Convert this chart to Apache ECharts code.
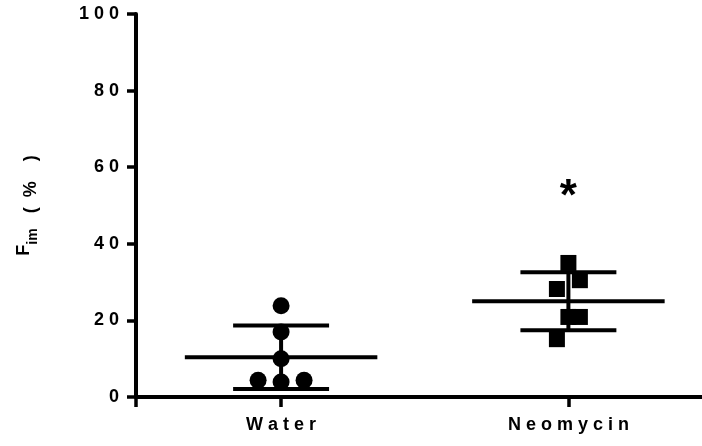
<!DOCTYPE html>
<html>
<head>
<meta charset="utf-8">
<script src="https://cdn.jsdelivr.net/npm/echarts@6/dist/echarts.min.js"></script>
<style>
  html, body { margin: 0; padding: 0; background: #fff; }
  #chart { width: 702px; height: 446px; }
</style>
</head>
<body>
<div id="chart"></div>
<script>
// groups sit at x = 1 and x = 2 on a value axis so the points can be jittered
const groups = ['Water', 'Neomycin'];
const groupX = [1, 2];

// individual animals
const waterX = [1, 1, 1, 0.92, 1, 1.08];
const waterY = [23.8, 17.0, 10.0, 4.4, 3.9, 4.4];
const neoX = [2, 2.04, 1.96, 2, 2.04, 1.96];
const neoY = [35.0, 30.5, 28.2, 20.9, 20.9, 15.1];

// mean +/- SD
const means = [10.4, 25.0];
const sds = [8.3, 7.6];

// significance mark
const sigText = ['', '*'];
const sigY = [null, 52];

const yTicks = [0, 20, 40, 60, 80, 100];

const FONT = "'Liberation Sans', Arial, sans-serif";
const spaced = s => String(s).split('').join(' ');

const MEAN_HALF = 0.335;   // half width of the mean line (x units)
const CAP_HALF = 0.167;    // half width of the SD caps

function renderErrorBar(params, api) {
  const x = api.value(0);
  const m = api.value(1);
  const sd = api.value(2);
  const c = api.coord([x, m]);
  const hi = api.coord([x, m + sd]);
  const lo = api.coord([x, m - sd]);
  const mh = api.size([MEAN_HALF, 0])[0];
  const ch = api.size([CAP_HALF, 0])[0];
  const st = { stroke: '#000', lineWidth: 4, lineCap: 'butt' };
  return {
    type: 'group',
    children: [
      { type: 'line', shape: { x1: c[0] - mh, y1: c[1], x2: c[0] + mh, y2: c[1] }, style: st },
      { type: 'line', shape: { x1: c[0], y1: hi[1], x2: c[0], y2: lo[1] }, style: st },
      { type: 'line', shape: { x1: c[0] - ch, y1: hi[1], x2: c[0] + ch, y2: hi[1] }, style: st },
      { type: 'line', shape: { x1: c[0] - ch, y1: lo[1], x2: c[0] + ch, y2: lo[1] }, style: st }
    ]
  };
}

const chart = echarts.init(document.getElementById('chart'));
const option = {
  animation: false,
  backgroundColor: '#fff',
  grid: { left: 136, right: 0, top: 14, bottom: 49, containLabel: false },
  xAxis: {
    type: 'value',
    min: 0.495,
    max: 2.465,
    splitLine: { show: false },
    axisLine: { show: true, lineStyle: { color: '#000', width: 4 } },
    axisTick: { show: true, length: 10, lineStyle: { color: '#000', width: 3.5 }, customValues: [0.495].concat(groupX) },
    axisLabel: {
      customValues: groupX,
      margin: 19,
      color: '#000',
      fontFamily: FONT,
      fontWeight: 'bold',
      fontSize: 18,
      formatter: v => spaced(groups[Math.round(v) - 1])
    }
  },
  yAxis: {
    type: 'value',
    min: yTicks[0],
    max: yTicks[yTicks.length - 1],
    interval: 20,
    splitLine: { show: false },
    axisLine: { show: true, lineStyle: { color: '#000', width: 4 } },
    axisTick: { show: true, length: 9, lineStyle: { color: '#000', width: 3.5 } },
    axisLabel: {
      margin: 17,
      color: '#000',
      fontFamily: FONT,
      fontWeight: 'bold',
      fontSize: 18,
      formatter: v => spaced(v)
    },
    name: '{f|F}{s|im}{g|   }{p|(  %    )}',
    nameLocation: 'middle',
    nameGap: 96,
    nameTextStyle: {
      fontFamily: FONT,
      fontWeight: 'bold',
      fontSize: 18,
      color: '#000',
      rich: {
        f: { fontFamily: FONT, fontWeight: 'bold', fontSize: 18, color: '#000', lineHeight: 18, verticalAlign: 'top' },
        s: { fontFamily: FONT, fontWeight: 'bold', fontSize: 14, color: '#000', lineHeight: 14, verticalAlign: 'bottom' },
        g: { fontFamily: FONT, fontWeight: 'bold', fontSize: 18, color: '#000', lineHeight: 25, verticalAlign: 'bottom' },
        p: { fontFamily: FONT, fontWeight: 'bold', fontSize: 18, color: '#000', lineHeight: 18, verticalAlign: 'bottom' }
      }
    }
  },
  series: [
    {
      type: 'custom',
      renderItem: renderErrorBar,
      data: groupX.map((x, i) => [x, means[i], sds[i]]),
      z: 2
    },
    {
      name: groups[0],
      type: 'scatter',
      symbol: 'circle',
      symbolSize: 17,
      itemStyle: { color: '#000', opacity: 1 },
      data: waterX.map((x, i) => [x, waterY[i]]),
      z: 3
    },
    {
      name: groups[1],
      type: 'scatter',
      symbol: 'rect',
      symbolSize: 16,
      itemStyle: { color: '#000', opacity: 1 },
      data: neoX.map((x, i) => [x, neoY[i]]),
      z: 3
    },
    {
      type: 'scatter',
      symbol: 'circle',
      symbolSize: 1,
      itemStyle: { color: 'rgba(0,0,0,0)', opacity: 1 },
      data: groupX.map((x, i) => [x, sigY[i]]).filter(d => d[1] != null),
      label: {
        show: true,
        position: 'inside',
        color: '#000',
        opacity: 1,
        fontFamily: FONT,
        fontWeight: 'bold',
        fontSize: 44,
        formatter: p => sigText[groupX.indexOf(p.value[0])]
      },
      z: 3
    }
  ]
};
chart.setOption(option);
</script>
</body>
</html>
